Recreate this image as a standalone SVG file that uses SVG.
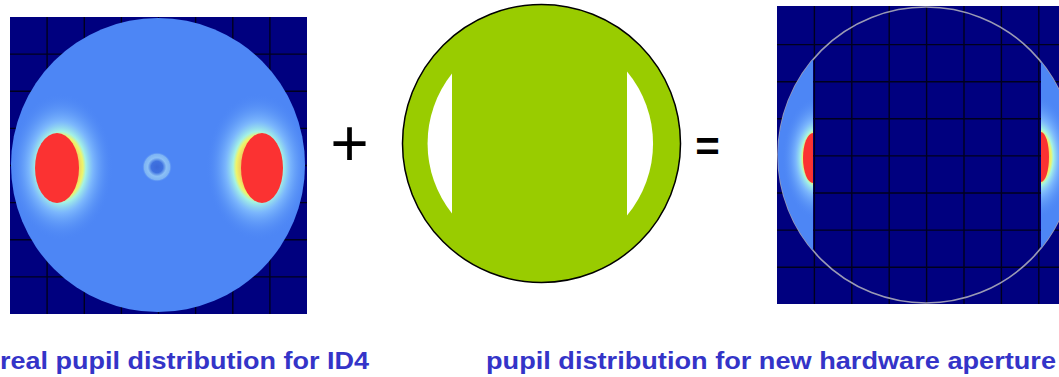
<svg xmlns="http://www.w3.org/2000/svg" width="1059" height="377" viewBox="0 0 1059 377">
  <style>
    .navy { fill: #00007f; }
    .grid { stroke: #00001e; stroke-width: 1.4; fill: none; }
    .pupil { fill: #4d86f5; }
    .hot { fill: #fb3232; }
    .label { font-family: "Liberation Sans", Arial, sans-serif; font-weight: bold; font-size: 24.5px; fill: #3434c8; }
    .op { font-family: "Liberation Sans", Arial, sans-serif; fill: #000000; }
  </style>
  <defs>
    <radialGradient id="halo" cx="0.5" cy="0.5" r="0.5">
      <stop offset="0" stop-color="#fb3232"/>
      <stop offset="0.42" stop-color="#eef56a"/>
      <stop offset="0.48" stop-color="#a4f2e4"/>
      <stop offset="0.62" stop-color="#8ac6ff" stop-opacity="0.75"/>
      <stop offset="1" stop-color="#4d86f5" stop-opacity="0"/>
    </radialGradient>
    <radialGradient id="ring" cx="0.5" cy="0.5" r="0.5">
      <stop offset="0" stop-color="#3a68d8"/>
      <stop offset="0.38" stop-color="#3f72e0"/>
      <stop offset="0.62" stop-color="#8cc0f6"/>
      <stop offset="0.85" stop-color="#7eb4f4"/>
      <stop offset="1" stop-color="#4d86f5" stop-opacity="0"/>
    </radialGradient>
    <clipPath id="leftClip"><circle cx="158" cy="165" r="147"/></clipPath>
    <clipPath id="resLeft"><path d="M 770 0 H 813 V 320 H 770 Z"/></clipPath>
    <clipPath id="resRight"><path d="M 1041 0 H 1070 V 320 H 1041 Z"/></clipPath>
    <clipPath id="resCircle"><circle cx="926" cy="155" r="148"/></clipPath>
  </defs>

  <g id="real-pupil">
    <rect class="navy" x="10" y="17" width="297" height="297"/>
    <path class="grid" d="M47.1 17V314M84.3 17V314M121.4 17V314M158.5 17V314M195.6 17V314M232.8 17V314M269.9 17V314M10 54.1H307M10 91.3H307M10 128.4H307M10 165.5H307M10 202.6H307M10 239.8H307M10 276.9H307"/>
    <circle class="pupil" cx="158" cy="165" r="147"/>
    <g clip-path="url(#leftClip)">
      <ellipse cx="61" cy="167" rx="52" ry="74" fill="url(#halo)"/>
      <ellipse cx="258" cy="167" rx="52" ry="74" fill="url(#halo)"/>
    </g>
    <ellipse class="hot" cx="57" cy="168" rx="22" ry="35"/>
    <ellipse class="hot" cx="262" cy="168" rx="21" ry="35"/>
    <circle cx="157" cy="167" r="15" fill="url(#ring)"/>
  </g>

  <g id="plus">
    <text class="op" x="349.5" y="166" font-size="66" text-anchor="middle">+</text>
  </g>

  <g id="aperture">
    <circle cx="541.5" cy="143.5" r="139" fill="#99cc00" stroke="#000000" stroke-width="1.5"/>
    <path d="M 452 73.5 A 112.5 112.5 0 0 0 452 213.5 Z" fill="#ffffff"/>
    <path d="M 627 71.5 A 112.5 112.5 0 0 1 627 215.5 Z" fill="#ffffff"/>
  </g>

  <g id="equals">
    <text class="op" x="707.5" y="161" font-size="42" font-weight="bold" text-anchor="middle">=</text>
  </g>

  <g id="result-pupil">
    <rect class="navy" x="777" y="6" width="290" height="298"/>
    <path class="grid" d="M814.4 6V304M851.8 6V304M889.2 6V304M926.6 6V304M964 6V304M1001.4 6V304M1038.8 6V304M777 44.6H1067M777 81.7H1067M777 118.8H1067M777 155.9H1067M777 193H1067M777 230.1H1067M777 267.2H1067"/>
    <circle cx="926" cy="155" r="148" fill="none" stroke="#9a9ab4" stroke-width="1.6"/>
    <g clip-path="url(#resCircle)">
      <g clip-path="url(#resLeft)">
        <rect class="pupil" x="770" y="0" width="43" height="320"/>
        <ellipse cx="818" cy="158" rx="36" ry="62" fill="url(#halo)"/>
        <ellipse class="hot" cx="813" cy="158" rx="10" ry="25"/>
      </g>
      <g clip-path="url(#resRight)">
        <rect class="pupil" x="1041" y="0" width="30" height="320"/>
        <ellipse cx="1036" cy="157" rx="36" ry="62" fill="url(#halo)"/>
        <ellipse class="hot" cx="1041" cy="157" rx="8" ry="25"/>
      </g>
    </g>
  </g>

  <g id="labels">
    <text class="label" x="0" y="369" textLength="369" lengthAdjust="spacingAndGlyphs">real pupil distribution for ID4</text>
    <text class="label" x="486" y="369" textLength="570" lengthAdjust="spacingAndGlyphs">pupil distribution for new hardware aperture</text>
  </g>

  <g id="connectors"/>
</svg>
